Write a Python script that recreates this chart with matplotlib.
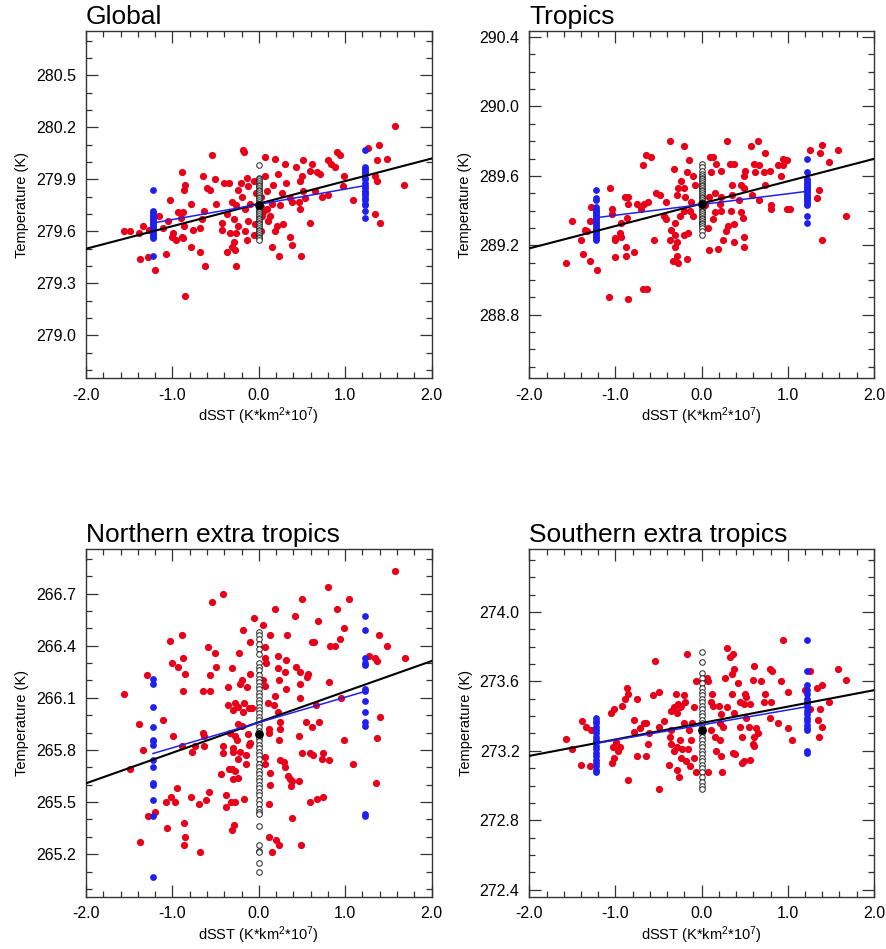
import matplotlib
matplotlib.use('Agg')
import matplotlib.pyplot as plt
from matplotlib.ticker import MultipleLocator
import numpy as np

plt.rcParams['font.family'] = ['Liberation Sans', 'DejaVu Sans']
plt.rcParams['mathtext.default'] = 'regular'

# forcing offsets used for the two perturbed ensembles
x_pert = 1.225

# ---- Global ----
gl_red_x = [1.58, 1.39, 1.26, 1.48, 1.37, 1.68, 1.35, 1.37, 1.09, 1.35, 1.40, 0.99, 0.98, 0.91,
            0.94, 0.80, 0.83, 0.88, 0.71, 0.80, 0.73, 0.65, 0.62, 0.59, 0.67, 0.51, 0.43, 0.50,
            0.48, 0.51, 0.53, 0.46, 0.48, 0.59, 0.49, 0.30, 0.32, 0.36, 0.38, 0.19, 0.07, 0.22,
            0.17, 0.27, 0.15, 0.25, 0.09, 0.13, 0.21, 0.28, 0.19, 0.15, 0.23, 0.36, 0.38, 0.07,
            0.09, 0.05, 0.11, -0.18, -0.17, -0.14, -0.21, -0.24, -0.20, -0.12, -0.06, -0.10,
            -0.16, -0.26, -0.31, -0.29, -0.24, -0.12, -0.16, -0.14, -0.06, -0.26, -0.33, -0.29,
            -0.31, -0.28, -0.37, -0.26, -0.43, -0.37, -0.35, -0.40, -0.51, -0.54, -0.65, -0.60,
            -0.57, -0.49, -0.43, -0.64, -0.66, -0.68, -0.76, -0.78, -0.68, -0.62, -0.78, -0.85,
            -0.88, -0.94, -0.90, -0.87, -0.89, -0.88, -0.96, -1.00, -0.99, -0.89, -0.85, -0.87,
            -1.03, -1.05, -1.07, -1.20, -1.28, -1.38, -1.34, -1.39, -1.49, -1.56, -1.27, -1.11,
            -1.16, 0.03, 0.04, 0.02, -0.03, -0.04, 0.03]
gl_red_y = [280.21, 280.10, 280.08, 280.02, 280.01, 279.87, 279.92, 279.89, 279.78, 279.70,
            279.65, 279.92, 279.86, 280.06, 280.04, 280.01, 279.99, 279.97, 279.93, 279.81,
            279.80, 279.83, 279.99, 279.95, 279.94, 280.01, 279.97, 279.92, 279.89, 279.83,
            279.79, 279.77, 279.73, 279.65, 279.46, 279.99, 279.88, 279.79, 279.77, 280.02,
            280.03, 279.93, 279.87, 279.82, 279.76, 279.75, 279.73, 279.69, 279.63, 279.64,
            279.60, 279.51, 279.46, 279.57, 279.52, 279.92, 279.83, 279.71, 279.66, 280.07,
            280.06, 279.91, 279.88, 279.84, 279.80, 279.86, 279.89, 279.76, 279.73, 279.75,
            279.77, 279.67, 279.63, 279.66, 279.60, 279.55, 279.58, 279.59, 279.59, 279.54,
            279.51, 279.49, 279.48, 279.40, 279.65, 279.70, 279.88, 279.88, 279.90, 280.04,
            279.92, 279.85, 279.84, 279.76, 279.61, 279.72, 279.67, 279.62, 279.61, 279.76,
            279.48, 279.40, 279.51, 279.23, 279.71, 279.71, 279.68, 279.63, 279.57, 279.56,
            279.55, 279.57, 279.59, 279.94, 279.87, 279.84, 279.78, 279.66, 279.47, 279.38,
            279.45, 279.44, 279.63, 279.59, 279.60, 279.60, 279.61, 279.62, 279.69, 279.74,
            279.69, 279.80, 279.82, 279.64, 279.60]
gl_blue_lo = [279.84, 279.72, 279.71, 279.70, 279.69, 279.68, 279.67, 279.66, 279.65, 279.64,
              279.63, 279.62, 279.61, 279.60, 279.59, 279.58, 279.57, 279.56, 279.46]
gl_blue_hi = [280.07, 279.97, 279.96, 279.95, 279.94, 279.93, 279.91, 279.90, 279.88, 279.86,
              279.85, 279.83, 279.82, 279.81, 279.79, 279.78, 279.76, 279.75, 279.72, 279.68]
gl_ctrl = [279.98, 279.91, 279.90, 279.89, 279.88, 279.87, 279.86, 279.85, 279.84, 279.83,
           279.82, 279.81, 279.80, 279.79, 279.78, 279.77, 279.76, 279.75, 279.74, 279.73,
           279.72, 279.71, 279.70, 279.69, 279.68, 279.67, 279.66, 279.65, 279.64, 279.63,
           279.62, 279.61, 279.60, 279.59, 279.58, 279.57, 279.56, 279.55]
gl_mean = 279.75
gl_fit = (279.76, 0.130)      # intercept, slope of all-member regression
gl_bfit = (279.756, 0.0878)   # regression through ensemble means

# ---- Tropics ----
tr_red_x = [1.68, 1.58, 1.48, 1.40, 1.37, 1.26, 1.36, 1.34, 1.40, 1.03, 0.99, 0.92, 0.94, 0.99,
            0.95, 0.89, 0.79, 0.80, 0.81, 0.73, 0.72, 0.73, 0.65, 0.57, 0.61, 0.62, 0.67, 0.67,
            0.58, 0.50, 0.49, 0.46, 0.49, 0.43, 0.46, 0.48, 0.49, 0.49, 0.38, 0.30, 0.37, 0.33,
            0.35, 0.35, 0.34, 0.31, 0.38, 0.28, 0.25, 0.19, 0.08, 0.22, 0.17, 0.10, 0.13, 0.11,
            0.15, 0.23, 0.21, 0.23, 0.15, 0.13, 0.07, 0.04, 0.09, -0.15, -0.21, -0.10, -0.17,
            -0.24, -0.27, -0.21, -0.28, -0.19, -0.12, -0.08, -0.13, -0.21, -0.10, -0.25, -0.32,
            -0.37, -0.31, -0.35, -0.31, -0.16, -0.20, -0.37, -0.28, -0.31, -0.29, -0.33, -0.27,
            -0.17, -0.41, -0.41, -0.44, -0.48, -0.53, -0.55, -0.59, -0.65, -0.68, -0.62, -0.67,
            -0.70, -0.75, -0.68, -0.63, -0.79, -0.88, -0.88, -0.87, -0.86, -0.89, -0.85, -0.86,
            -0.93, -0.95, -0.93, -1.00, -1.01, -1.00, -1.06, -1.04, -1.04, -1.08, -1.21, -1.30,
            -1.38, -1.40, -1.35, -1.30, -1.28, -1.50, -1.57, -1.33]
tr_red_y = [289.37, 289.75, 289.68, 289.78, 289.73, 289.75, 289.52, 289.47, 289.23, 289.41,
            289.41, 289.60, 289.66, 289.69, 289.70, 289.66, 289.63, 289.41, 289.43, 289.55,
            289.62, 289.73, 289.80, 289.77, 289.67, 289.62, 289.66, 289.46, 289.49, 289.63,
            289.60, 289.55, 289.53, 289.46, 289.39, 289.36, 289.25, 289.19, 289.22, 289.80,
            289.67, 289.67, 289.55, 289.49, 289.40, 289.31, 289.32, 289.28, 289.23, 289.18,
            289.17, 289.63, 289.67, 289.71, 289.71, 289.62, 289.50, 289.48, 289.44, 289.40,
            289.39, 289.35, 289.30, 289.43, 289.48, 289.69, 289.77, 289.60, 289.62, 289.57,
            289.53, 289.53, 289.49, 289.48, 289.45, 289.55, 289.40, 289.40, 289.37, 289.37,
            289.64, 289.80, 289.33, 289.29, 289.26, 289.27, 289.26, 289.23, 289.22, 289.19,
            289.14, 289.11, 289.10, 289.12, 289.35, 289.45, 289.37, 289.49, 289.50, 289.23,
            289.71, 289.72, 289.66, 289.45, 289.44, 289.41, 289.44, 288.95, 288.95, 289.16,
            289.14, 289.19, 289.36, 289.44, 289.48, 289.48, 288.89, 289.33, 289.27, 289.25,
            289.24, 289.23, 289.13, 289.53, 289.41, 289.38, 288.90, 289.06, 289.11, 289.15,
            289.23, 289.29, 289.34, 289.42, 289.34, 289.10, 289.28]
tr_blue_lo = [289.52, 289.47, 289.46, 289.42, 289.41, 289.40, 289.39, 289.38, 289.37, 289.36,
              289.35, 289.34, 289.33, 289.32, 289.31, 289.30, 289.29, 289.28, 289.27, 289.26,
              289.25, 289.24, 289.23]
tr_blue_hi = [289.70, 289.62, 289.58, 289.57, 289.56, 289.55, 289.54, 289.53, 289.52, 289.51,
              289.50, 289.49, 289.48, 289.47, 289.46, 289.45, 289.44, 289.43, 289.37, 289.33]
tr_ctrl = [289.67, 289.65, 289.63, 289.61, 289.60, 289.59, 289.58, 289.57, 289.56, 289.55,
           289.54, 289.53, 289.52, 289.51, 289.50, 289.49, 289.48, 289.47, 289.46, 289.45,
           289.44, 289.43, 289.42, 289.41, 289.40, 289.39, 289.38, 289.37, 289.36, 289.35,
           289.34, 289.33, 289.32, 289.31, 289.30, 289.28, 289.26]
tr_mean = 289.44
tr_fit = (289.44, 0.129)
tr_bfit = (289.435, 0.062)

# ---- Northern extra tropics ----
ne_red_x = [1.58, 0.80, 0.50, 1.04, 0.19, 0.91, 0.42, 0.68, -0.41, -0.54, -0.06, -0.18, 0.05,
            0.99, 0.13, 0.33, 1.39, 0.94, 0.62, 0.64, 0.88, 0.82, 1.48, -1.03, -0.89, -0.10,
            0.07, -0.59, 1.69, 1.27, 1.34, 1.37, -0.51, -0.88, -0.23, 0.22, 0.32, 0.07, 0.08,
            -1.00, -0.93, -0.49, -0.31, 0.43, 0.48, 0.22, 0.30, -0.85, -0.10, -1.29, -0.56,
            0.57, 0.56, -0.19, 0.23, 0.48, 0.81, 0.05, -0.22, -0.36, -0.14, -0.65, -0.56, -0.88,
            0.32, 0.07, -1.56, 0.19, 0.48, 0.95, 0.11, 0.18, 0.66, -0.36, -0.28, -0.24, -0.17,
            -0.30, -0.11, -0.08, -0.18, 0.22, -1.11, -1.39, -0.24, -0.19, 0.24, 0.55, 0.70,
            0.62, 1.40, 0.12, 0.12, 0.25, -0.65, -0.64, -0.33, -0.28, -0.25, -0.13, -0.99, 0.46,
            0.99, 1.37, 0.23, -0.10, -0.11, -0.42, -0.30, -0.63, -0.74, -0.77, -0.89, -1.34,
            -0.30, -0.22, -0.42, -0.15, 0.07, 0.50, 0.59, 0.63, 0.74, 0.73, 0.81, -0.24, -0.15,
            0.07, 0.24, 0.29, 0.30, 1.09, -1.49, -0.31, -0.35, -0.28, -0.44, 0.34, 0.36, 0.39,
            0.46, 0.37, -0.24, -0.30, 0.13, 0.13, 1.36, -0.95, -0.58, -1.02, -0.78, -0.38,
            -1.07, -0.97, -0.61, -0.69, -0.32, -0.28, -0.17, 0.67, 0.74, 0.59, 0.12, -0.38,
            -1.20, -1.28, -0.87, -1.06, -0.29, -0.31, 0.38, -1.38, -0.86, -0.87, 0.12, 0.20,
            0.23, 0.49, -0.68, 0.15]
ne_red_y = [266.83, 266.74, 266.67, 266.67, 266.61, 266.61, 266.57, 266.54, 266.70, 266.65,
            266.56, 266.49, 266.52, 266.50, 266.46, 266.46, 266.46, 266.44, 266.42, 266.42,
            266.40, 266.40, 266.40, 266.43, 266.46, 266.42, 266.39, 266.39, 266.33, 266.34,
            266.33, 266.31, 266.36, 266.33, 266.36, 266.34, 266.32, 266.33, 266.30, 266.30,
            266.28, 266.28, 266.27, 266.28, 266.25, 266.27, 266.25, 266.24, 266.24, 266.23,
            266.23, 266.24, 266.22, 266.20, 266.20, 266.18, 266.19, 266.20, 266.18, 266.16,
            266.16, 266.14, 266.14, 266.14, 266.15, 266.17, 266.12, 266.11, 266.10, 266.10,
            266.07, 266.06, 266.06, 266.06, 266.07, 266.05, 266.07, 266.03, 266.04, 266.04,
            266.02, 266.02, 265.97, 265.95, 265.95, 265.94, 265.96, 265.96, 265.96, 265.93,
            265.99, 265.92, 265.90, 265.92, 265.90, 265.88, 265.90, 265.88, 265.86, 265.89,
            265.88, 265.88, 265.86, 265.87, 265.86, 265.84, 265.83, 265.82, 265.81, 265.82,
            265.82, 265.79, 265.82, 265.80, 265.79, 265.79, 265.78, 265.77, 265.76, 265.78,
            265.78, 265.77, 265.78, 265.75, 265.74, 265.75, 265.72, 265.72, 265.74, 265.73,
            265.70, 265.72, 265.69, 265.69, 265.69, 265.68, 265.66, 265.65, 265.63, 265.62,
            265.62, 265.59, 265.64, 265.63, 265.67, 265.60, 265.61, 265.58, 265.56, 265.53,
            265.53, 265.54, 265.50, 265.50, 265.51, 265.49, 265.50, 265.50, 265.52, 265.52,
            265.53, 265.50, 265.49, 265.47, 265.44, 265.42, 265.38, 265.35, 265.37, 265.34,
            265.41, 265.27, 265.30, 265.25, 265.30, 265.28, 265.25, 265.25, 265.21, 265.21]
ne_blue_lo = [266.21, 266.18, 266.05, 265.93, 265.86, 265.85, 265.83, 265.74, 265.70, 265.61,
              265.60, 265.51, 265.42, 265.07]
ne_blue_hi = [266.57, 266.49, 266.33, 266.30, 266.29, 266.15, 266.14, 266.08, 266.02, 265.96,
              265.94, 265.43, 265.42]
ne_ctrl = [266.48, 266.46, 266.44, 266.41, 266.38, 266.35, 266.30, 266.28, 266.26, 266.23,
           266.21, 266.19, 266.17, 266.15, 266.13, 266.11, 266.09, 266.07, 266.05, 266.03,
           266.01, 265.99, 265.97, 265.95, 265.93, 265.91, 265.89, 265.87, 265.85, 265.83,
           265.81, 265.79, 265.77, 265.75, 265.72, 265.70, 265.68, 265.66, 265.64, 265.62,
           265.60, 265.58, 265.56, 265.54, 265.51, 265.49, 265.46, 265.44, 265.43, 265.36,
           265.25, 265.22, 265.21, 265.15, 265.10]
ne_mean = 265.89
ne_fit = (265.96, 0.176)
ne_bfit = (265.958, 0.1457)

# ---- Southern extra tropics ----
se_red_x = [0.95, 0.29, 0.33, 0.36, -0.17, -0.54, 1.58, 1.68, 1.26, 0.79, 0.82, 0.61, 0.38,
            0.27, 0.35, 0.60, 0.69, 0.92, 1.40, 1.34, 0.06, 0.07, -0.07, 0.42, 1.20, 1.00, 0.50,
            0.52, 0.35, 0.12, -0.87, -0.85, -0.89, -0.50, -0.56, -0.30, -0.20, -0.75, 0.74,
            0.81, 0.72, 1.48, 0.11, 0.13, 0.44, 0.49, 0.29, 0.56, -0.27, -0.19, -0.24, -0.25,
            -0.32, -0.28, -0.35, -0.09, -1.02, -1.05, -0.92, 1.26, 1.37, 0.20, 0.22, 0.38, 0.52,
            0.79, -0.79, -0.67, -0.64, -0.44, -0.21, -0.11, 0.21, 0.89, 1.35, 1.40, -1.39, -1.34,
            -1.28, -0.72, -0.50, -0.35, -0.15, 0.11, 0.25, 0.45, 0.55, 0.63, 1.00, -1.57, 1.36,
            1.05, -0.79, -0.61, -0.37, -0.25, -0.12, 0.16, 0.21, 0.47, 0.61, 0.65, -0.99, -1.03,
            -1.50, -0.95, -0.97, -0.62, -0.36, -0.29, -0.23, -0.16, -0.32, 0.17, 0.36, 0.39,
            0.60, 0.61, -1.02, -1.04, -0.75, -0.64, -0.24, -0.18, -0.09, 0.23, 0.56, 0.47, 0.49,
            -1.40, -1.30, -0.38, -0.29, -0.14, -0.07, 0.07, 0.24, -0.26, -0.86, -0.50]
se_red_y = [273.84, 273.79, 273.74, 273.76, 273.76, 273.72, 273.67, 273.61, 273.66, 273.67,
            273.66, 273.69, 273.67, 273.62, 273.64, 273.61, 273.60, 273.60, 273.58, 273.56,
            273.62, 273.60, 273.60, 273.59, 273.55, 273.54, 273.53, 273.51, 273.53, 273.53,
            273.56, 273.53, 273.50, 273.54, 273.52, 273.53, 273.52, 273.50, 273.53, 273.48,
            273.48, 273.48, 273.48, 273.46, 273.48, 273.47, 273.45, 273.47, 273.47, 273.48,
            273.46, 273.45, 273.45, 273.42, 273.43, 273.45, 273.44, 273.42, 273.46, 273.44,
            273.44, 273.46, 273.41, 273.42, 273.39, 273.39, 273.38, 273.36, 273.36, 273.37,
            273.36, 273.36, 273.36, 273.36, 273.38, 273.34, 273.37, 273.34, 273.32, 273.33,
            273.34, 273.32, 273.32, 273.32, 273.34, 273.34, 273.34, 273.33, 273.33, 273.27,
            273.28, 273.26, 273.31, 273.30, 273.28, 273.26, 273.26, 273.28, 273.26, 273.28,
            273.28, 273.30, 273.25, 273.22, 273.21, 273.22, 273.20, 273.24, 273.24, 273.22,
            273.21, 273.21, 273.20, 273.20, 273.19, 273.18, 273.24, 273.23, 273.16, 273.13,
            273.17, 273.17, 273.16, 273.14, 273.16, 273.17, 273.15, 273.13, 273.14, 273.12,
            273.11, 273.12, 273.09, 273.11, 273.08, 273.08, 273.08, 273.05, 273.03, 272.98]
se_blue_lo = [273.39, 273.37, 273.36, 273.34, 273.32, 273.30, 273.28, 273.26, 273.25, 273.23,
              273.21, 273.19, 273.17, 273.15, 273.13, 273.11, 273.09, 273.08]
se_blue_hi = [273.84, 273.66, 273.58, 273.55, 273.53, 273.50, 273.48, 273.47, 273.45, 273.43,
              273.41, 273.39, 273.37, 273.35, 273.33, 273.32, 273.20, 273.19]
se_ctrl = [273.77, 273.71, 273.65, 273.62, 273.59, 273.56, 273.54, 273.52, 273.50, 273.48,
           273.46, 273.44, 273.42, 273.40, 273.38, 273.36, 273.34, 273.32, 273.30, 273.28,
           273.26, 273.24, 273.22, 273.20, 273.18, 273.16, 273.14, 273.12, 273.10, 273.08,
           273.05, 273.02, 273.00, 272.98]
se_mean = 273.32
se_fit = (273.36, 0.0945)
se_bfit = (273.349, 0.0861)

titles = ['Global', 'Tropics', 'Northern extra tropics', 'Southern extra tropics']
x_ticks = [-2.0, -1.0, 0.0, 1.0, 2.0]

RED = '#e8001a'
BLUE = '#2020ee'


def draw_panel(ax, title, red_x, red_y, blue_lo, blue_hi, ctrl, mean, fit, bfit,
               ylim, yticks):
    ax.scatter(red_x, red_y, s=27, color=RED, linewidths=0, zorder=2)
    ax.scatter([-x_pert] * len(blue_lo), blue_lo, s=24, color=BLUE, linewidths=0, zorder=3)
    ax.scatter([x_pert] * len(blue_hi), blue_hi, s=24, color=BLUE, linewidths=0, zorder=3)
    ax.scatter([0.0] * len(ctrl), ctrl, s=16, facecolors='white', edgecolors='#222222',
               linewidths=0.7, zorder=4)

    # regression of all members over the full axis
    xl = np.array([-2.0, 2.0])
    ax.plot(xl, fit[0] + fit[1] * xl, color='black', lw=1.5, zorder=5)
    # line through the ensemble means
    xb = np.array([-x_pert, x_pert])
    ax.plot(xb, bfit[0] + bfit[1] * xb, color=BLUE, lw=1.1, zorder=6)
    ax.scatter([0.0], [mean], s=28, color='black', zorder=7)

    ax.set_xlim(-2.0, 2.0)
    ax.set_ylim(*ylim)
    ax.set_xticks(x_ticks)
    ax.set_xticklabels(['%.1f' % v for v in x_ticks])
    ax.set_yticks(yticks)
    ax.set_yticklabels(['%.1f' % v for v in yticks])
    ax.xaxis.set_minor_locator(MultipleLocator(0.2))
    ax.yaxis.set_minor_locator(MultipleLocator(0.1))
    ax.tick_params(which='both', direction='in', top=True, right=True,
                   labelsize=11.5, width=0.9, color='#333333')
    ax.tick_params(which='major', length=8.5, pad=7)
    ax.tick_params(which='minor', length=4.3)
    for sp in ax.spines.values():
        sp.set_linewidth(1.0)
        sp.set_color('#333333')

    ax.set_title(title, loc='left', fontsize=19, pad=5)
    ax.set_ylabel('Temperature (K)', fontsize=10.5, labelpad=5)
    ax.set_xlabel('dSST (K*km$^{2}$*10$^{7}$)', fontsize=10.5, labelpad=2)


fig = plt.figure(figsize=(8.86, 9.49), dpi=100)
ax1 = fig.add_axes([0.0971, 0.6017, 0.390, 0.3656])
ax2 = fig.add_axes([0.5974, 0.6017, 0.389, 0.3656])
ax3 = fig.add_axes([0.0971, 0.0551, 0.390, 0.3660])
ax4 = fig.add_axes([0.5974, 0.0551, 0.389, 0.3660])

draw_panel(ax1, titles[0], gl_red_x, gl_red_y, gl_blue_lo, gl_blue_hi, gl_ctrl, gl_mean,
           gl_fit, gl_bfit, (278.755, 280.755), [279.0, 279.3, 279.6, 279.9, 280.2, 280.5])
draw_panel(ax2, titles[1], tr_red_x, tr_red_y, tr_blue_lo, tr_blue_hi, tr_ctrl, tr_mean,
           tr_fit, tr_bfit, (288.435, 290.435), [288.8, 289.2, 289.6, 290.0, 290.4])
draw_panel(ax3, titles[2], ne_red_x, ne_red_y, ne_blue_lo, ne_blue_hi, ne_ctrl, ne_mean,
           ne_fit, ne_bfit, (264.955, 266.955), [265.2, 265.5, 265.8, 266.1, 266.4, 266.7])
draw_panel(ax4, titles[3], se_red_x, se_red_y, se_blue_lo, se_blue_hi, se_ctrl, se_mean,
           se_fit, se_bfit, (272.36, 274.36), [272.4, 272.8, 273.2, 273.6, 274.0])

fig.savefig('out.png', dpi=100)
